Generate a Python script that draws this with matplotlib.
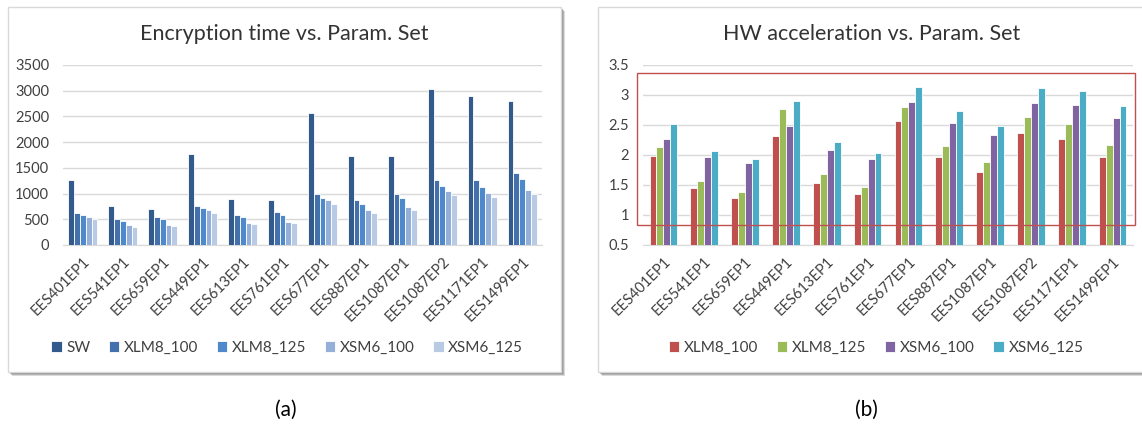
import matplotlib
matplotlib.use("Agg")
import matplotlib.pyplot as plt
import matplotlib.transforms as mtransforms
from matplotlib.patches import Rectangle
import numpy as np

plt.rcParams['font.family'] = ['Lato', 'DejaVu Sans']

# parameter sets
param_sets = ['EES401EP1', 'EES541EP1', 'EES659EP1', 'EES449EP1', 'EES613EP1',
              'EES761EP1', 'EES677EP1', 'EES887EP1', 'EES1087EP1', 'EES1087EP2',
              'EES1171EP1', 'EES1499EP1']

# encryption time
enc_sw = [1255, 753, 708, 1766, 896, 877, 2558, 1734, 1721, 3039, 2903, 2799]
enc_xlm8_100 = [623, 506, 552, 753, 578, 649, 994, 877, 994, 1266, 1266, 1409]
enc_xlm8_125 = [578, 461, 506, 721, 539, 591, 909, 805, 909, 1156, 1136, 1279]
enc_xsm6_100 = [552, 383, 383, 688, 422, 448, 877, 682, 740, 1052, 1019, 1065]
enc_xsm6_125 = [500, 351, 364, 623, 403, 422, 805, 630, 675, 968, 942, 994]

# speed-up over software
acc_xlm8_100 = [1.98, 1.45, 1.28, 2.32, 1.54, 1.35, 2.56, 1.97, 1.71, 2.37, 2.27, 1.97]
acc_xlm8_125 = [2.14, 1.56, 1.38, 2.77, 1.69, 1.47, 2.80, 2.15, 1.88, 2.63, 2.52, 2.17]
acc_xsm6_100 = [2.26, 1.97, 1.87, 2.49, 2.09, 1.94, 2.88, 2.53, 2.33, 2.86, 2.83, 2.61]
acc_xsm6_125 = [2.52, 2.07, 1.94, 2.90, 2.21, 2.04, 3.14, 2.74, 2.49, 3.11, 3.07, 2.82]

enc_labels = ['SW', 'XLM8_100', 'XLM8_125', 'XSM6_100', 'XSM6_125']
acc_labels = ['XLM8_100', 'XLM8_125', 'XSM6_100', 'XSM6_125']

enc_colors = ['#335a8c', '#4470ac', '#5089cb', '#95b0d8', '#b9cae5']
acc_colors = ['#c0504d', '#9bbb59', '#8064a2', '#4bacc6']

W, H = 1142, 428
fig = plt.figure(figsize=(W / 100, H / 100), dpi=100)
fig.patch.set_facecolor('white')

TEXT = '#404040'
GRID = '#d9d9d9'


def px(x0, y0, x1, y1):
    # pixel box (top-left origin) -> figure fraction [l, b, w, h]
    return [x0 / W, 1 - y1 / H, (x1 - x0) / W, (y1 - y0) / H]


def panel(x0, y0, x1, y1):
    l, b, w, h = px(x0, y0, x1, y1)
    for off, a in [(4, 0.25), (3, 0.35), (2, 0.45)]:
        fig.patches.append(Rectangle((l + off / W, b - off / H), w, h,
                                     transform=fig.transFigure,
                                     facecolor='#6e6e6e', edgecolor='none',
                                     alpha=a, zorder=-3))
    fig.patches.append(Rectangle((l, b), w, h, transform=fig.transFigure,
                                 facecolor='white', edgecolor=GRID,
                                 linewidth=1, zorder=-2))


def grouped(ax, series, colors, labels, slot):
    x = np.arange(len(param_sets))
    n = len(series)
    for i, (vals, c, lab) in enumerate(zip(series, colors, labels)):
        off = (i - (n - 1) / 2) * slot
        ax.bar(x + off, vals, width=slot, color=c, edgecolor='white',
               linewidth=0.6, label=lab, zorder=3)
    ax.set_xlim(-0.5, len(param_sets) - 0.5)
    ax.set_xticks(x)
    ax.set_xticklabels(param_sets, rotation=45, ha='right', va='top',
                       rotation_mode='anchor', fontsize=10.5, color=TEXT)
    ax.tick_params(axis='both', length=0, labelsize=10.5, labelcolor=TEXT)
    ax.tick_params(axis='x', pad=7)
    ax.tick_params(axis='y', pad=10)
    ax.yaxis.grid(True, color=GRID, linewidth=1, zorder=0)
    ax.set_axisbelow(True)
    for s in ['top', 'right', 'left']:
        ax.spines[s].set_visible(False)
    ax.spines['bottom'].set_color(GRID)
    ax.set_facecolor('none')


panel(8, 7, 561, 372)
panel(598, 7, 1160, 372)

# (a) encryption time
ax1 = fig.add_axes(px(63, 65, 542, 245))
grouped(ax1, [enc_sw, enc_xlm8_100, enc_xlm8_125, enc_xsm6_100, enc_xsm6_125],
        enc_colors, enc_labels, 0.145)
ax1.set_ylim(0, 3500)
ax1.set_yticks(np.arange(0, 3501, 500))
fig.text(284 / W, 1 - 34 / H, 'Encryption time vs. Param. Set',
         ha='center', va='center', fontsize=15.5, color='#333333')
h1, l1 = ax1.get_legend_handles_labels()
fig.legend(h1, l1, loc='center', bbox_to_anchor=(287 / W, 1 - 348 / H),
           ncol=5, frameon=False, fontsize=11, labelcolor=TEXT,
           handlelength=0.7, handleheight=0.7, handletextpad=0.3,
           columnspacing=1.2)

# (b) hardware acceleration
ax2 = fig.add_axes(px(643, 65, 1133, 245))
grouped(ax2, [acc_xlm8_100, acc_xlm8_125, acc_xsm6_100, acc_xsm6_125],
        acc_colors, acc_labels, 0.17)
ax2.set_ylim(0.5, 3.5)
ax2.set_yticks(np.arange(0.5, 3.51, 0.5))
ax2.set_yticklabels(['0.5', '1', '1.5', '2', '2.5', '3', '3.5'])
fig.text(872 / W, 1 - 34 / H, 'HW acceleration vs. Param. Set',
         ha='center', va='center', fontsize=15.5, color='#333333')
h2, l2 = ax2.get_legend_handles_labels()
fig.legend(h2, l2, loc='center', bbox_to_anchor=(876 / W, 1 - 348 / H),
           ncol=4, frameon=False, fontsize=11, labelcolor=TEXT,
           handlelength=0.7, handleheight=0.7, handletextpad=0.3,
           columnspacing=1.2)

# highlight box around the upper range
trans = mtransforms.blended_transform_factory(ax2.transAxes, ax2.transData)
ax2.add_patch(Rectangle((-0.013, 0.84), 1.017, 3.367 - 0.84, transform=trans,
                        fill=False, edgecolor='#c0504d', linewidth=1,
                        clip_on=False, zorder=5))

fig.text(286 / W, 1 - 410 / H, '(a)', ha='center', va='center',
         fontsize=15, color='black')
fig.text(866 / W, 1 - 410 / H, '(b)', ha='center', va='center',
         fontsize=15, color='black')

fig.savefig('out.png', dpi=100, facecolor='white')
